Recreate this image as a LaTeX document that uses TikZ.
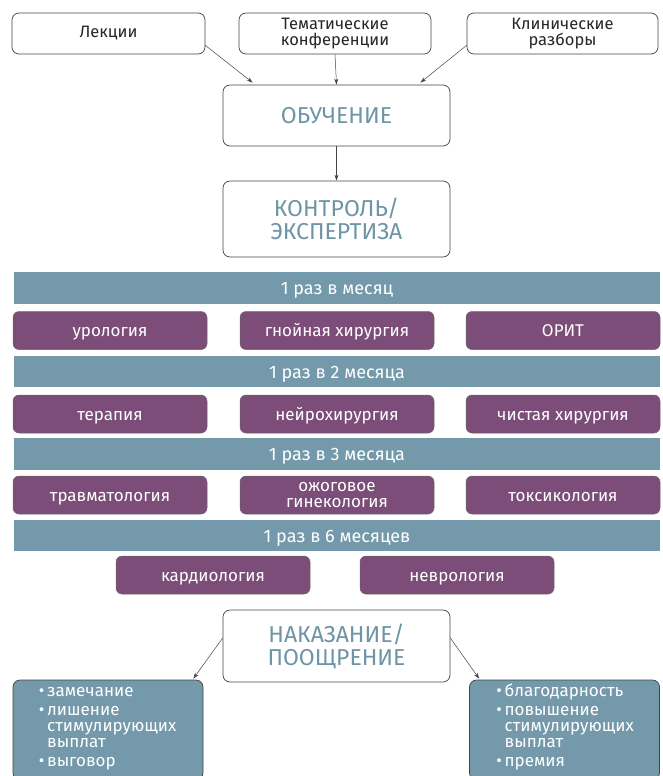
\documentclass[tikz,border=0pt]{standalone}
\usepackage{fontspec}
\setmainfont{Fira Sans}
\usetikzlibrary{arrows.meta,calc}
\definecolor{barc}{HTML}{7499AA}
\definecolor{purp}{HTML}{7B4D78}
\definecolor{titc}{HTML}{6E95A5}
\definecolor{edgec}{HTML}{444444}
\begin{document}
\begin{tikzpicture}[x=1pt,y=-1pt,
  wbox/.style={draw=edgec,line width=0.7pt,rounded corners=7pt,fill=white,inner sep=0pt,align=center,font=\fontsize{16.5}{16}\selectfont,text=black!85},
  tbox/.style={wbox,font=\fontsize{23}{23}\selectfont,text=titc},
  oneline/.style={text height=16pt,text depth=4pt},
  bar/.style={text height=17pt,text depth=4pt,fill=barc,inner sep=0pt,minimum width=646pt,font=\fontsize{18}{18}\selectfont,text=white},
  pbox/.style={draw=edgec!80,line width=0.5pt,fill=purp,rounded corners=6pt,inner sep=0pt,minimum width=194pt,minimum height=38pt,align=center,font=\fontsize{17}{16}\selectfont,text=white},
  lbox/.style={draw=edgec,line width=0.7pt,fill=barc,rounded corners=7pt,inner sep=0pt,minimum width=190pt,minimum height=100pt},
  ltext/.style={inner sep=0pt,anchor=base west,align=left,font=\fontsize{17}{16}\selectfont,text=white},
  arr/.style={draw=edgec,line width=0.5pt,-{Stealth[length=6pt,width=4pt]}}]
\useasboundingbox (0,0) rectangle (663,776);
\clip (0,0) rectangle (663,776);
% top boxes
\node[wbox,minimum width=193pt,minimum height=41pt] (lek) at (108.5,33.5) {Лекции};
\node[wbox,minimum width=192pt,minimum height=41pt] (tem) at (335,33.5) {Тематические\\конференции};
\node[wbox,minimum width=191pt,minimum height=41pt] (kl) at (562.5,33.5) {Клинические\\разборы};
\node[tbox,minimum width=227pt,minimum height=61pt] (ob) at (336.5,115.5) {ОБУЧЕНИЕ};
\node[tbox,minimum width=227pt,minimum height=76pt] (ko) at (336.5,219) {КОНТРОЛЬ/\\ЭКСПЕРТИЗА};
\draw[arr] ($(lek.south east)+(0,-9)$) -- ($(ob.north west)+(30,-2)$);
\draw[arr] (tem.south) -- (ob.north);
\draw[arr] ($(kl.south west)+(0,-9)$) -- ($(ob.north east)+(-30,-2)$);
\draw[arr] (ob.south) -- (ko.north);
% bars and rows
\node[bar,minimum height=32pt] (b1) at (337,288) {1 раз в месяц};
\node[pbox,oneline] (u) at (110,330.5) {урология};
\node[pbox,oneline] (g) at (337,330.5) {гнойная хирургия};
\node[pbox,oneline] (o) at (563,330.5) {ОРИТ};
\node[bar,minimum height=31pt] (b2) at (337,371.5) {1 раз в 2 месяца};
\node[pbox,oneline] (t) at (110,414) {терапия};
\node[pbox,oneline] (n) at (337,414) {нейрохирургия};
\node[pbox,oneline] (c) at (563,414) {чистая хирургия};
\node[bar,minimum height=32pt] (b3) at (337,454) {1 раз в 3 месяца};
\node[pbox,oneline] (tr) at (110,495) {травматология};
\node[pbox] (oz) at (337,495) {ожоговое\\гинекология};
\node[pbox,oneline] (tx) at (563,495) {токсикология};
\node[bar,minimum height=31pt] (b4) at (337,535.5) {1 раз в 6 месяцев};
\node[pbox,oneline] (ka) at (213,575) {кардиология};
\node[pbox,oneline] (ne) at (457,575) {неврология};
% bottom
\node[tbox,minimum width=227pt,minimum height=72pt] (na) at (336.5,646) {НАКАЗАНИЕ/\\ПООЩРЕНИЕ};
\node[lbox] (lb) at (108,730) {};
\node[lbox] (rb) at (564.5,730) {};
\node[ltext] (lt) at ($(lb.north west)+(26,17)$) {\begin{tabular}[t]{@{}l@{\,}l@{}}• & замечание\\[3pt] • & лишение\\ & стимулирующих\\ & выплат\\[3pt] • & выговор\end{tabular}};
\node[ltext] (rt) at ($(rb.north west)+(27,17)$) {\begin{tabular}[t]{@{}l@{\,}l@{}}• & благодарность\\[3pt] • & повышение\\ & стимулирующих\\ & выплат\\[3pt] • & премия\end{tabular}};
\draw[arr] ($(na.west)+(0,-8)$) -- ($(lb.north east)+(-10,-1)$);
\draw[arr] ($(na.east)+(0,-8)$) -- ($(rb.north west)+(10,-1)$);
\end{tikzpicture}
\end{document}
